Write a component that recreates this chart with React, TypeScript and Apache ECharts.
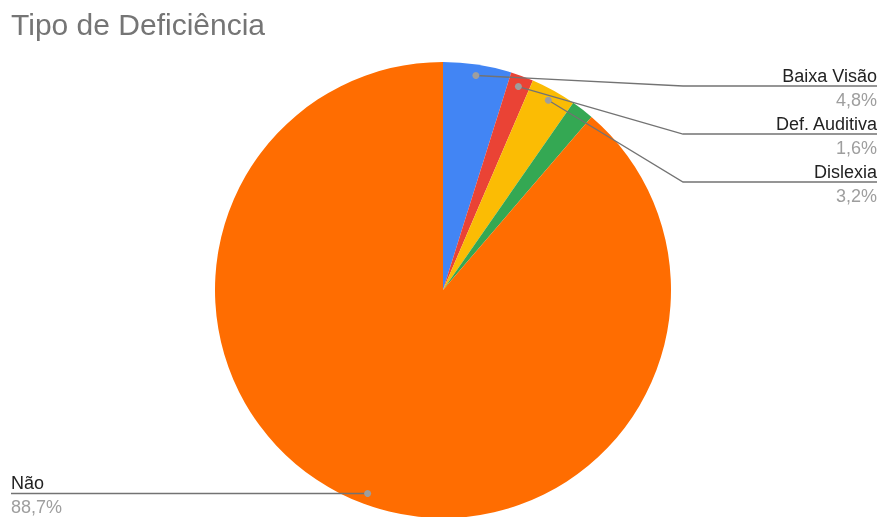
import React, { useEffect, useRef } from 'react';
import * as echarts from 'echarts';

const titleText = 'Tipo de Deficiência';
const categories = ['Baixa Visão', 'Def. Auditiva', 'Dislexia', 'Outra', 'Não'];
const values = [3, 1, 2, 1, 55];
const colors = ['#4285f4', '#ea4335', '#fbbc04', '#34a853', '#ff6d01'];
const labeled = [true, true, true, false, true];

const FONT = '"Liberation Sans", Arial, sans-serif';

export default function App() {
  const ref = useRef<HTMLDivElement>(null);
  useEffect(() => {
    const chart = echarts.init(ref.current!, null, { renderer: 'svg' });
    const cx = 443, cy = 290, R = 228, dotR = 217;
    const total = values.reduce((a, b) => a + b, 0);
    const mids: number[] = [];
    let acc = 0;
    values.forEach((v) => {
      mids.push(((acc + v / 2) / total) * 2 * Math.PI);
      acc += v;
    });
    const dots = mids.map((a) => [cx + dotR * Math.sin(a), cy - dotR * Math.cos(a)]);
    const rightLineY = [86, 134, 182];
    const elbowX = 683;
    const rightX = 877;
    const leftX = 11;
    const nameLH = 20;

    const linePts = (i: number) => {
      const d = dots[i];
      if (i === 4) return [d, [leftX, d[1]]];
      const ly = rightLineY[i];
      return [d, [elbowX, ly], [rightX, ly]];
    };
    const lineY = (i: number) => (i === 4 ? dots[i][1] : rightLineY[i]);

    const graphics: any[] = [];
    categories.forEach((_, i) => {
      if (!labeled[i]) return;
      graphics.push({
        type: 'polyline',
        z: 100,
        shape: { points: linePts(i) },
        style: { stroke: '#737373', lineWidth: 1.3, fill: null },
      });
      graphics.push({
        type: 'circle',
        z: 101,
        shape: { cx: dots[i][0], cy: dots[i][1], r: 3.5 },
        style: { fill: '#9e9e9e' },
      });
    });

    chart.setOption({
      animation: false,
      title: {
        text: titleText,
        left: 11,
        top: 9,
        padding: 0,
        textStyle: { fontFamily: FONT, fontSize: 30, fontWeight: 'normal', color: '#757575' },
      },
      series: [
        {
          type: 'pie',
          center: [cx, cy],
          radius: R,
          startAngle: 90,
          clockwise: true,
          avoidLabelOverlap: false,
          emphasis: { disabled: true },
          itemStyle: { borderWidth: 0 },
          label: {
            show: true,
            position: 'outside',
            fontFamily: FONT,
            formatter: (p: any) => `{n|${p.name}}\n{p|${(p.value / total * 100).toFixed(1).replace('.', ',')}%}`,
            rich: {
              n: { fontFamily: FONT, fontSize: 18, color: '#222222', lineHeight: nameLH },
              p: { fontFamily: FONT, fontSize: 18, color: '#9e9e9e', lineHeight: 28 },
            },
          },
          labelLine: { show: false },
          labelLayout: (params: any) => {
            const i = params.dataIndex;
            const ly = lineY(i);
            return {
              x: i === 4 ? leftX : rightX,
              y: ly - nameLH,
              align: i === 4 ? 'left' : 'right',
              verticalAlign: 'top',
            };
          },
          data: categories.map((name, i) => ({
            name,
            value: values[i],
            itemStyle: { color: colors[i] },
            label: { show: labeled[i] },
          })),
        },
      ],
      graphic: graphics,
    });
    return () => chart.dispose();
  }, []);
  return <div ref={ref} style={{ position: 'fixed', left: 0, top: 0, width: 882, height: 517 }} />;
}
